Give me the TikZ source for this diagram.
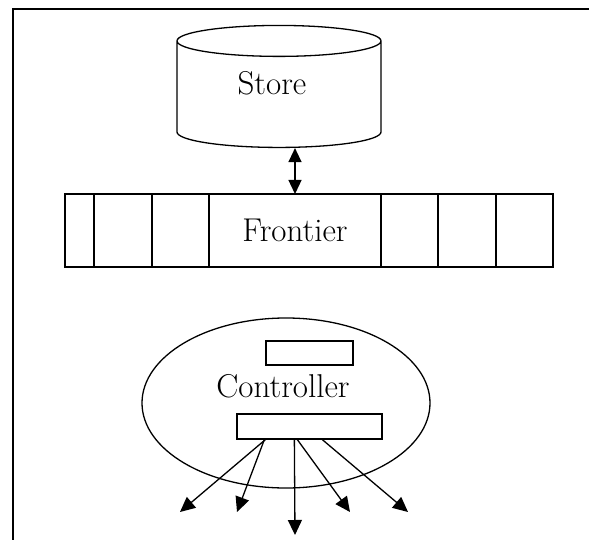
\documentclass[tikz,border=0pt]{standalone}
\usetikzlibrary{shapes.geometric,arrows.meta,positioning}
\begin{document}
\begin{tikzpicture}[x=1pt,y=-1pt,line width=1.3pt,
    every node/.style={font=\fontsize{33}{40}\selectfont},
    cell/.style={draw,minimum height=73pt,inner sep=0pt,outer sep=0pt},
    box/.style={draw,minimum height=24pt,inner sep=0pt},
    tip/.style={-{Triangle[length=15pt,width=14pt]}}]
    \useasboundingbox (0,0) rectangle (589,540);
    % frame
    \draw[line width=2pt] (13,540) -- (13,9) -- (589,9);
    % store
    \node[cylinder,shape border rotate=90,draw,aspect=0.45,inner sep=0pt,
          minimum width=204pt,minimum height=122pt] (store) at (279,94.5) {\phantom{Store}};
    \node (storelabel) at (272,83) {Store};
    % frontier queue
    \node[cell,minimum width=172pt] (frontier) at (295,230.5) {Frontier};
    \node[cell,minimum width=57pt,left=0pt of frontier] (left3) {};
    \node[cell,minimum width=58pt,left=0pt of left3] (left2) {};
    \node[cell,minimum width=29pt,left=0pt of left2] (left1) {};
    \node[cell,minimum width=57pt,right=0pt of frontier] (right1) {};
    \node[cell,minimum width=58pt,right=0pt of right1] (right2) {};
    \node[cell,minimum width=57pt,right=0pt of right2] (right3) {};
    \draw[{Triangle[length=14pt,width=13pt]}-{Triangle[length=14pt,width=13pt]}]
        (store.south -| frontier.north) -- (frontier.north);
    % controller
    \node[ellipse,draw,inner sep=0pt,minimum width=288pt,minimum height=170pt] (ctrl) at (286,403) {};
    \node (ctrllabel) at (283,386) {Controller};
    \node[box,minimum width=87pt] (inbox) at (309.5,353) {};
    \node[box,minimum width=145pt,minimum height=25pt] (outbox) at (309.5,426.5) {};
    \coordinate (out1) at (180,512);
    \coordinate (out2) at (237,512);
    \coordinate (out3) at (295,535);
    \coordinate (out4) at (350,512);
    \coordinate (out5) at (408,512);
    \draw[tip] ([xshift=29pt]outbox.south west) -- (out1);
    \draw[tip] ([xshift=28pt]outbox.south west) -- (out2);
    \draw[tip] ([xshift=58pt]outbox.south west) -- (out3);
    \draw[tip] ([xshift=61pt]outbox.south west) -- (out4);
    \draw[tip] ([xshift=86pt]outbox.south west) -- (out5);
\end{tikzpicture}
\end{document}
